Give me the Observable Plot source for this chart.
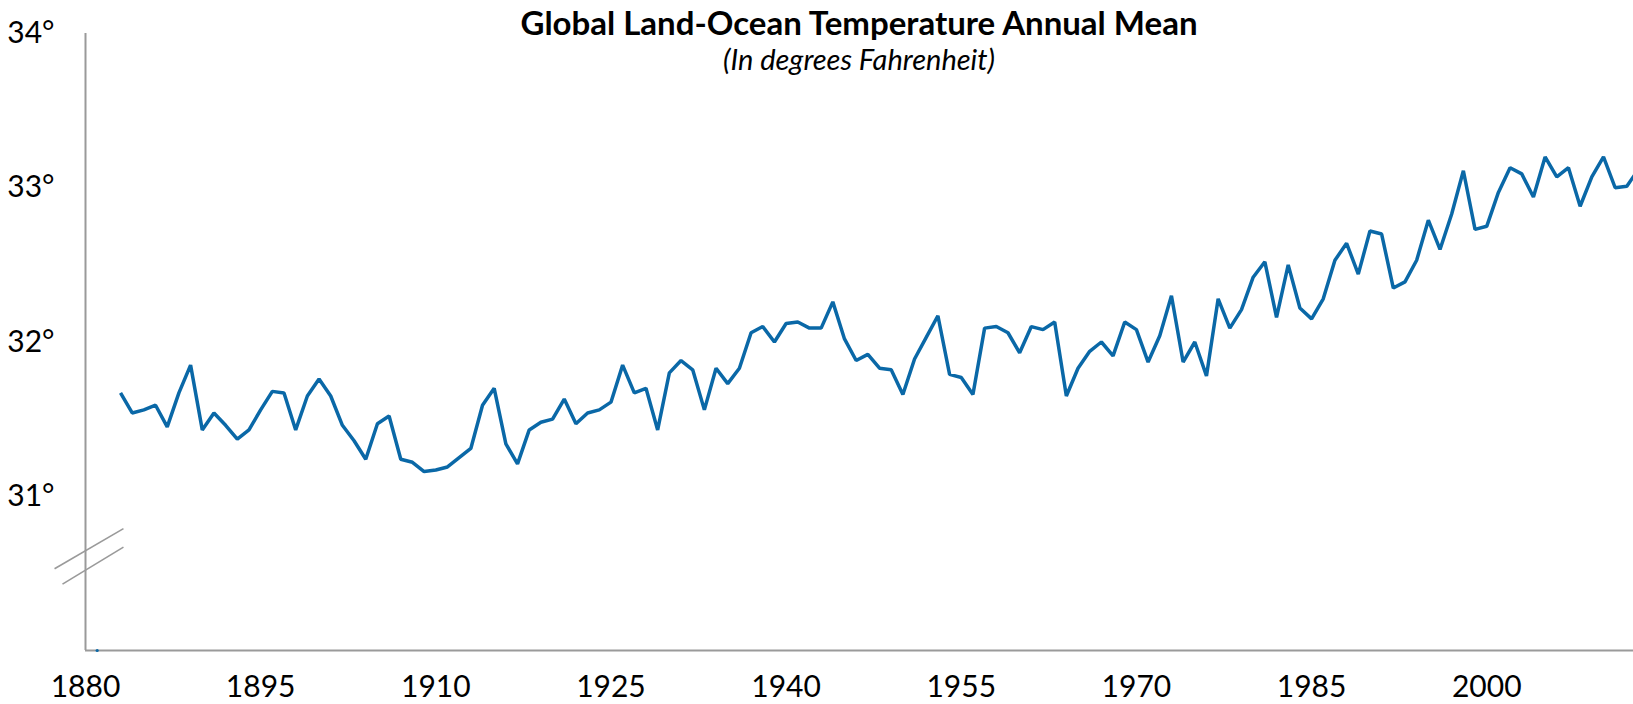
<!DOCTYPE html>
<html>
<head>
<meta charset="utf-8">
<script src="https://cdn.jsdelivr.net/npm/d3@7"></script>
<script src="https://cdn.jsdelivr.net/npm/@observablehq/plot@0.6"></script>
<style>
  html, body { margin: 0; padding: 0; background: #fff; overflow: hidden; }
  body { width: 1633px; height: 704px; position: relative; font-family: Lato, "Open Sans", sans-serif; }
  #chart { position: absolute; left: 0; top: 0; width: 1633px; height: 704px; overflow: hidden; }
  .titles { position: absolute; left: 85px; right: 0; top: 0; text-align: center; color: #000; }
  .title { font-weight: 700; font-size: 33px; line-height: 34px; margin-top: 5px; }
  .subtitle { font-style: italic; font-size: 29px; line-height: 30px; margin-top: 5px; }
</style>
</head>
<body>
<div id="chart"></div>
<div class="titles">
  <div class="title">Global Land-Ocean Temperature Annual Mean</div>
  <div class="subtitle">(In degrees Fahrenheit)</div>
</div>
<script>
// Years and annual mean values (°F)
const years = d3.range(1883, 2015);
const temps = [
  31.67, 31.54, 31.56, 31.59, 31.45, 31.67, 31.85, 31.43, 31.54, 31.46, // 1883-1892
  31.37, 31.43, 31.56, 31.68, 31.67, 31.43, 31.65, 31.76, 31.65, 31.46, // 1893-1902
  31.36, 31.24, 31.47, 31.52, 31.24, 31.22, 31.16, 31.17, 31.19, 31.25, // 1903-1912
  31.31, 31.59, 31.70, 31.34, 31.21, 31.43, 31.48, 31.50, 31.63, 31.47, // 1913-1922
  31.54, 31.56, 31.61, 31.85, 31.67, 31.70, 31.43, 31.80, 31.88, 31.82, // 1923-1932
  31.56, 31.83, 31.73, 31.83, 32.06, 32.10, 32.00, 32.12, 32.13, 32.09, // 1933-1942
  32.09, 32.26, 32.02, 31.88, 31.92, 31.83, 31.82, 31.66, 31.89, 32.03, // 1943-1952
  32.17, 31.79, 31.77, 31.66, 32.09, 32.10, 32.06, 31.93, 32.10, 32.08, // 1953-1962
  32.13, 31.65, 31.83, 31.94, 32.00, 31.91, 32.13, 32.08, 31.87, 32.04, // 1963-1972
  32.30, 31.87, 32.00, 31.78, 32.28, 32.09, 32.21, 32.42, 32.52, 32.16, // 1973-1982
  32.50, 32.22, 32.15, 32.28, 32.53, 32.64, 32.44, 32.72, 32.70, 32.35, // 1983-1992
  32.39, 32.53, 32.79, 32.60, 32.83, 33.11, 32.73, 32.75, 32.97, 33.13, // 1993-2002
  33.09, 32.94, 33.20, 33.07, 33.13, 32.88, 33.07, 33.20, 33.00, 33.01, // 2003-2012
  33.12, 33.27                                                           // 2013-2014
];
const xTicks = [1880, 1895, 1910, 1925, 1940, 1955, 1970, 1985, 2000];
const yTicks = [31, 32, 33, 34];
// The reference crops the series at its right edge, part-way through 2012-2013
const xDomain = [1880, 2012.57];
const yDomain = [30, 34];
// Axis-break marker: two short slanted strokes across the y axis, in data units
const axisBreaks = [
  {x1: 1877.35, y1: 30.53, x2: 1883.25, y2: 30.79},
  {x1: 1878.03, y1: 30.43, x2: 1883.25, y2: 30.67}
];
// Lone marker at the foot of the axis in the reference
const footMarker = [{year: 1881, temp: 30}];

const data = years.map((y, i) => ({year: y, temp: temps[i]}));

const lineColor = "#0a68a7";
const axisColor = "#9a9a9a";

const chart = Plot.plot({
  width: 1633,
  height: 704,
  marginTop: 33,
  marginBottom: 54,
  marginLeft: 85,
  marginRight: 0,
  style: {fontFamily: "Lato, 'Open Sans', sans-serif", fontSize: "30px", color: "#000", background: "transparent"},
  x: {domain: xDomain, ticks: xTicks, tickFormat: d => String(d), tickSize: 0, tickPadding: 25, label: null},
  y: {domain: yDomain, ticks: yTicks, tickFormat: d => d + "°", tickSize: 0, tickPadding: 31, label: null},
  marks: [
    Plot.ruleX([xDomain[0]], {stroke: axisColor, strokeWidth: 2}),
    Plot.ruleY([yDomain[0]], {stroke: axisColor, strokeWidth: 2}),
    Plot.link(axisBreaks, {x1: "x1", y1: "y1", x2: "x2", y2: "y2", stroke: axisColor, strokeWidth: 1.6}),
    Plot.line(data, {x: "year", y: "temp", stroke: lineColor, strokeWidth: 3.5, strokeLinejoin: "miter", strokeLinecap: "butt", clip: true}),
    Plot.dot(footMarker, {x: "year", y: "temp", r: 1.6, fill: lineColor, stroke: "none"})
  ]
});
document.getElementById("chart").appendChild(chart);
</script>
</body>
</html>
